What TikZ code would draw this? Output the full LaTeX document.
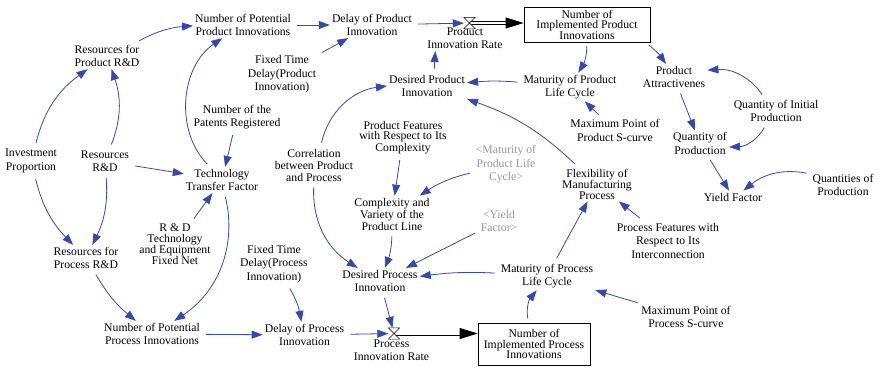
\documentclass[tikz,border=0pt]{standalone}
\usepackage{fontspec}
\setmainfont{Liberation Serif}
\usetikzlibrary{arrows.meta}

\definecolor{linkblue}{RGB}{52,72,175}
\definecolor{shadowgray}{RGB}{150,150,150}

\newcommand{\varfont}{\fontsize{11.7}{13.5}\selectfont}
\newcommand{\tightfont}{\fontsize{11.7}{11}\selectfont}

\tikzset{
  var/.style={align=center, inner sep=2pt, font=\varfont},
  tightvar/.style={var, font=\tightfont},
  ghost/.style={var, text=shadowgray},
  stock/.style={draw, line width=0.8pt, align=center, inner sep=0pt, font=\fontsize{11.7}{10.5}\selectfont},
  link/.style={draw=linkblue, line width=0.8pt, shorten <=4pt, -{Triangle[length=11pt,width=8pt]}},
  pipe/.style={draw, line width=0.8pt, double distance=2.4pt, -{Triangle[length=18pt,width=11pt]}},
  valve/.style={minimum width=11pt, minimum height=11pt, inner sep=0pt},
}

\begin{document}
\begin{tikzpicture}[x=1pt, y=-1pt]
    \useasboundingbox (0,0) rectangle (880,368);

    % Stocks and flows
    \node[stock, minimum width=126pt, minimum height=35pt] (pbox) at (587,24.5) {Number of\\Implemented Product\\Innovations};
    \node[stock, minimum width=112pt, minimum height=42pt] (rbox) at (534,344) {Number of\\Implemented Process\\Innovations};
    \node[valve] (pvalve) at (469.5,23) {};
    \node[valve] (rvalve) at (394,333.5) {};
    \node[var] (pir) at (465,38) {Product\\Innovation Rate};
    \node[var] (prr) at (391.5,350) {Process\\Innovation Rate};
    \draw[pipe] (pvalve.center) -- (pbox.west |- pvalve.center);
    \draw[pipe] (rvalve.center) -- (rbox.west |- rvalve.center);
    \draw[fill=white] (pvalve.north west) -- (pvalve.north east) -- (pvalve.south west) -- (pvalve.south east) -- cycle;
    \draw[fill=white] (rvalve.north west) -- (rvalve.north east) -- (rvalve.south west) -- (rvalve.south east) -- cycle;

    % Product side
    \node[var] (ppi) at (243,25) {Number of Potential\\Product Innovations};
    \node[var] (rprd) at (107,56) {Resources for\\Product R\&D};
    \node[var] (inv) at (31,161) {Investment\\Proportion};
    \node[var] (rrd) at (105,161) {Resources\\R\&D};
    \node[var] (ttf) at (222,180) {Technology\\Transfer Factor};
    \node[var] (pat) at (237,117) {Number of the\\Patents Registered};
    \node[var] (ftdprod) at (282,74.5) {Fixed Time\\Delay(Product\\Innovation)};
    \node[var] (dprod) at (372,25) {Delay of Product\\Innovation};
    \node[var] (dpi) at (427,86) {Desired Product\\Innovation};
    \node[var] (mplc) at (570,87) {Maturity of Product\\Life Cycle};
    \node[var] (attr) at (674,77) {Product\\Attractivenes};
    \node[var] (qinit) at (776,111) {Quantity of Initial\\Production};
    \node[var] (mpps) at (615,130.5) {Maximum Point of\\Product S-curve};
    \node[var] (qprod) at (700,143.5) {Quantity of\\Production};
    \node[var] (qties) at (843,185) {Quantities of\\Production};
    \node[var] (yield) at (733,197) {Yield Factor};
    \node[tightvar] (flex) at (597,184) {Flexibility of\\Manufacturing\\Process};

    % Middle
    \node[var, font=\fontsize{11.7}{12}\selectfont] (corr) at (314,165) {Correlation\\between Product\\and Process};
    \node[tightvar, font=\fontsize{11.7}{10.5}\selectfont] (pfc) at (403,137.5) {Product Features\\with Respect to Its\\Complexity};
    \node[ghost] (gmplc) at (506,164.5) {<Maturity of\\Product Life\\Cycle>};
    \node[var, font=\fontsize{11.7}{12}\selectfont] (cvpl) at (392,214) {Complexity and\\Variety of the\\Product Line};
    \node[ghost] (gyield) at (499,221) {<Yield\\Factor>};
    \node[var] (pfi) at (668,240.5) {Process Features with\\Respect to Its\\Interconnection};

    % Process side
    \node[var] (dpri) at (380,281) {Desired Process\\Innovation};
    \node[var] (mprlc) at (547,276) {Maturity of Process\\Life Cycle};
    \node[var] (mppr) at (686,317) {Maximum Point of\\Process S-curve};
    \node[var] (ftdproc) at (274,264) {Fixed Time\\Delay(Process\\Innovation)};
    \node[var] (dproc) at (304.5,335) {Delay of Process\\Innovation};
    \node[var] (ppri) at (152,334) {Number of Potential\\Process Innovations};
    \node[var] (rprr) at (86,258) {Resources for\\Process R\&D};
    \node[tightvar] (rdt) at (175,244.5) {R \& D\\Technology\\and Equipment\\Fixed Net};

    % Links, product side
    \draw[link] (rprd) to[bend left=12] (ppi);
    \draw[link] (inv) to[bend left=20] (rprd);
    \draw[link] (rrd) to[bend right=20] (rprd);
    \draw[link] (rrd) -- (ttf);
    \draw[link] (ttf) to[bend left=50] (ppi);
    \draw[link] (pat) -- (ttf);
    \draw[link] (ppi) -- (dprod);
    \draw[link] (ftdprod) -- (dprod);
    \draw[link] (dprod) -- (pvalve);
    \draw[link] ([xshift=7pt]dpi.north) -- ([xshift=10pt]pir.south west);
    \draw[link] (mplc) to[bend right=5] (dpi);
    \draw[link] (mpps) -- (mplc);
    \draw[link] (pbox) to[bend left=15] (mplc);
    \draw[link] (pbox.-17) to[bend left=8] (attr);
    \draw[link] (qinit) to[bend right=30] (attr);
    \draw[link] (qinit) to[bend left=30] (qprod);
    \draw[link] (attr) -- (qprod);
    \draw[link] (qprod) -- (yield);
    \draw[link] (qties) to[bend right=25] (yield);
    \draw[link] (flex) to[bend right=12] (dpi);

    % Links, middle
    \draw[link] (corr) to[bend left=35] (dpi);
    \draw[link] (corr) to[bend right=30] (dpri);
    \draw[link] (pfc) -- (cvpl);
    \draw[link] (gmplc) to[bend right=10] (cvpl);
    \draw[link] (cvpl) to[bend left=10] (dpri);
    \draw[link] (gyield) -- (dpri);

    % Links, process side
    \draw[link] (inv) to[bend right=15] (rprr);
    \draw[link] (rrd) to[bend left=15] (rprr);
    \draw[link] (rprr) to[bend right=10] (ppri);
    \draw[link] (ttf) to[bend left=35] (ppri);
    \draw[link] (rdt) -- (ttf);
    \draw[link] (ppri) -- (dproc);
    \draw[link] (ftdproc) to[bend left=10] (dproc);
    \draw[link] (dproc) -- (rvalve);
    \draw[link] (dpri) -- (rvalve);
    \draw[link] (mprlc) to[bend right=5] (dpri);
    \draw[link] (rbox) to[bend left=25] (mprlc);
    \draw[link] (mprlc) -- (flex);
    \draw[link] (pfi) -- (flex);
    \draw[link] (mppr) -- (mprlc);
\end{tikzpicture}
\end{document}
